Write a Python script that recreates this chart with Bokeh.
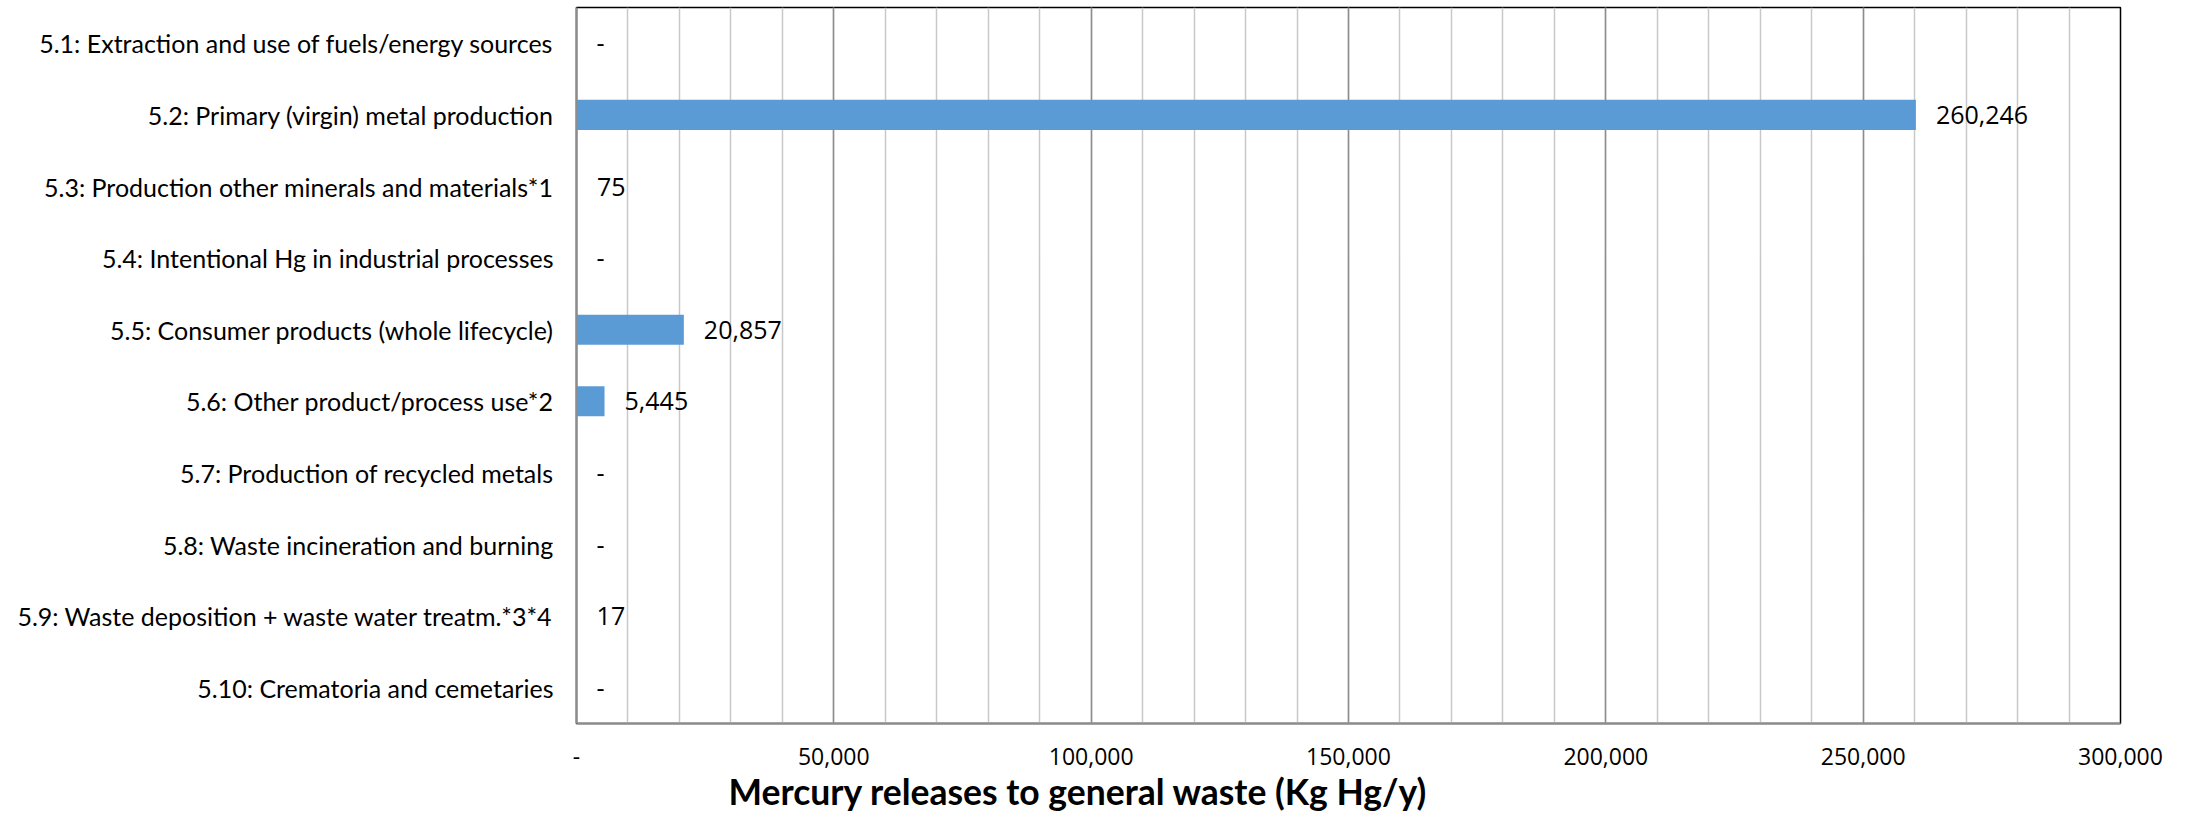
from bokeh.plotting import figure
from bokeh.models import ColumnDataSource, FactorRange, SingleIntervalTicker, Title, NumeralTickFormatter
from bokeh.core.properties import value
from bokeh.embed import file_html
from bokeh.resources import INLINE

categories = [
    "5.1: Extraction and use of fuels/energy sources",
    "5.2: Primary (virgin) metal production",
    "5.3: Production other minerals and materials*1",
    "5.4: Intentional Hg in industrial processes",
    "5.5: Consumer products (whole lifecycle)",
    "5.6: Other product/process use*2",
    "5.7: Production of recycled metals",
    "5.8: Waste incineration and burning",
    "5.9: Waste deposition + waste water treatm.*3*4",
    "5.10: Crematoria and cemetaries",
]
values = [0, 260246, 75, 0, 20857, 5445, 0, 0, 17, 0]
x_ticks = [0, 50000, 100000, 150000, 200000, 250000, 300000]
x_title = "Mercury releases to general waste (Kg Hg/y)"

labels = ["-" if v == 0 else "{:,}".format(v) for v in values]
src = ColumnDataSource(dict(cat=categories, val=values, lab=labels))

p = figure(
    width=2185, height=812,
    y_range=FactorRange(*reversed(categories), range_padding=0),
    x_range=(0, 300000),
    output_backend="svg", toolbar_location=None,
    min_border_left=576, min_border_right=65, min_border_top=7, min_border_bottom=0,
)

p.hbar(y="cat", right="val", height=0.42, source=src, color="#5b9bd5", line_color=None)
p.text(x="val", y="cat", text="lab", source=src, x_offset=20,
       text_font=value("Open Sans"), text_font_size="25px", text_color="#000000",
       text_align="left", text_baseline="middle")

# axes
p.xaxis.ticker = x_ticks
p.xaxis.formatter = NumeralTickFormatter(format="0,0")
p.xaxis.major_label_overrides = {0: "-"}
p.xaxis.major_label_text_font = "Open Sans"
p.xaxis.major_label_text_font_size = "23px"
p.xaxis.major_label_text_color = "#000000"
p.xaxis.major_label_standoff = 18
p.xaxis.major_tick_line_color = None
p.xaxis.minor_tick_line_color = None
p.xaxis.axis_line_color = "#8c8c8c"
p.xaxis.axis_line_width = 2

p.yaxis.major_label_text_font = "Lato"
p.yaxis.major_label_text_font_size = "25px"
p.yaxis.major_label_text_color = "#000000"
p.yaxis.major_label_standoff = 17
p.yaxis.major_tick_line_color = None
p.yaxis.minor_tick_line_color = None
p.yaxis.axis_line_color = "#8c8c8c"
p.yaxis.axis_line_width = 2

# grids
p.ygrid.grid_line_color = None
p.xgrid.ticker = SingleIntervalTicker(interval=50000, num_minor_ticks=5)
p.xgrid.grid_line_color = "#8c8c8c"
p.xgrid.grid_line_width = 1.5
p.xgrid.minor_grid_line_color = "#c8c8c8"
p.xgrid.minor_grid_line_width = 1.5

p.outline_line_color = "#000000"
p.outline_line_width = 1.5
p.background_fill_color = "#ffffff"
p.border_fill_color = "#ffffff"

t = Title(text=x_title, align="left", offset=152, standoff=0,
          text_font="Lato", text_font_style="bold", text_font_size="35.5px",
          text_color="#000000")
p.add_layout(t, "below")

open("out.html", "w").write(file_html(p, INLINE))
